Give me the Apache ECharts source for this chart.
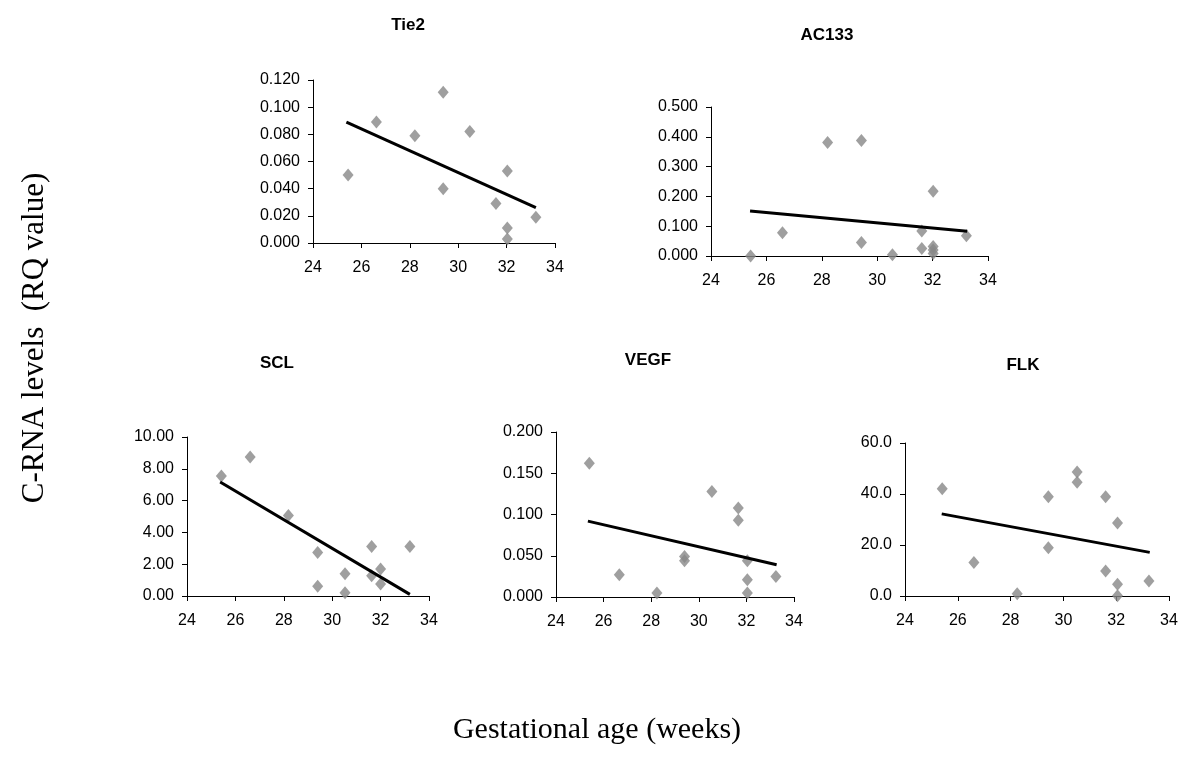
<!DOCTYPE html>
<html>
<head>
<meta charset="utf-8">
<script src="https://cdn.jsdelivr.net/npm/echarts@6/dist/echarts.min.js"></script>
<style>html,body{margin:0;padding:0;background:#fff}#c{width:1200px;height:771px}</style>
</head>
<body>
<div id="c"></div>
<script>
// Gestational age (weeks) tick range
const xTicks = [24, 26, 28, 30, 32, 34];

// Tie2
const tie2X = [25.45, 26.62, 28.21, 29.38, 29.38, 30.48, 31.56, 32.03, 32.03, 32.03, 33.21];
const tie2Y = [0.050, 0.089, 0.079, 0.111, 0.040, 0.082, 0.029, 0.053, 0.011, 0.003, 0.019];
const tie2TrendX = [25.38, 33.21];
const tie2TrendY = [0.089, 0.026];

// AC133
const ac133X = [25.43, 26.58, 28.21, 29.43, 29.43, 30.55, 31.61, 31.61, 32.02, 32.02, 32.02, 32.02, 33.22];
const ac133Y = [0.000, 0.078, 0.381, 0.388, 0.045, 0.004, 0.084, 0.025, 0.217, 0.032, 0.020, 0.008, 0.068];
const ac133TrendX = [25.41, 33.25];
const ac133TrendY = [0.151, 0.083];

// SCL
const sclX = [25.42, 26.61, 28.19, 29.40, 29.40, 30.53, 30.53, 31.63, 31.63, 32.00, 32.00, 33.21];
const sclY = [7.55, 8.74, 5.07, 2.73, 0.61, 1.40, 0.21, 3.12, 1.28, 1.70, 0.75, 3.12];
const sclTrendX = [25.37, 33.21];
const sclTrendY = [7.17, 0.10];

// VEGF
const vegfX = [25.40, 26.66, 28.24, 29.40, 29.40, 30.55, 31.66, 31.66, 32.04, 32.04, 32.04, 33.24];
const vegfY = [0.162, 0.027, 0.005, 0.049, 0.044, 0.128, 0.108, 0.093, 0.044, 0.021, 0.005, 0.025];
const vegfTrendX = [25.34, 33.27];
const vegfTrendY = [0.092, 0.039];

// FLK
const flkX = [25.41, 26.61, 28.25, 29.43, 29.43, 30.52, 30.52, 31.60, 31.60, 32.05, 32.05, 32.05, 33.24];
const flkY = [42.1, 13.1, 0.9, 38.9, 18.9, 48.6, 44.6, 38.9, 9.8, 28.6, 4.6, 0.1, 5.9];
const flkTrendX = [25.39, 33.27];
const flkTrendY = [32.2, 17.1];

const panels = [
  {name: 'Tie2', x: tie2X, y: tie2Y, tx: tie2TrendX, ty: tie2TrendY, max: 0.12, interval: 0.02, dec: 3,
   grid: {left: 313, top: 80, width: 242, height: 163}, title: [408, 25]},
  {name: 'AC133', x: ac133X, y: ac133Y, tx: ac133TrendX, ty: ac133TrendY, max: 0.5, interval: 0.1, dec: 3,
   grid: {left: 711, top: 107, width: 277, height: 149}, title: [827, 35]},
  {name: 'SCL', x: sclX, y: sclY, tx: sclTrendX, ty: sclTrendY, max: 10, interval: 2, dec: 2,
   grid: {left: 187, top: 437, width: 242, height: 159}, title: [277, 363]},
  {name: 'VEGF', x: vegfX, y: vegfY, tx: vegfTrendX, ty: vegfTrendY, max: 0.2, interval: 0.05, dec: 3,
   grid: {left: 556, top: 432, width: 238, height: 165}, title: [648, 360]},
  {name: 'FLK', x: flkX, y: flkY, tx: flkTrendX, ty: flkTrendY, max: 60, interval: 20, dec: 1,
   grid: {left: 905, top: 443, width: 264, height: 153}, title: [1023, 365]}
];

const sans = '"Liberation Sans", Arial, sans-serif';
const tickFont = {fontFamily: sans, fontSize: 16, color: '#000'};
const axisLine = {show: true, lineStyle: {color: '#000', width: 1}};
const axisTick = {show: true, inside: false, length: 5, lineStyle: {color: '#000', width: 1}};

const grids = [], xAxes = [], yAxes = [], series = [], graphics = [];
panels.forEach((p, i) => {
  grids.push(Object.assign({containLabel: false}, p.grid));
  xAxes.push({type: 'value', gridIndex: i, min: xTicks[0], max: xTicks[xTicks.length - 1], interval: 2,
    axisLine: Object.assign({onZero: false}, axisLine), axisTick: axisTick, splitLine: {show: false},
    axisLabel: Object.assign({margin: 17}, tickFont)});
  yAxes.push({type: 'value', gridIndex: i, min: 0, max: p.max, interval: p.interval,
    axisLine: axisLine, axisTick: axisTick, splitLine: {show: false},
    axisLabel: Object.assign({margin: 13, formatter: v => v.toFixed(p.dec)}, tickFont)});
  series.push({type: 'scatter', xAxisIndex: i, yAxisIndex: i, symbol: 'diamond', symbolSize: [11, 13],
    itemStyle: {color: '#878787'}, data: p.x.map((v, k) => [v, p.y[k]]), z: 2});
  series.push({type: 'line', xAxisIndex: i, yAxisIndex: i, symbol: 'none',
    lineStyle: {color: '#000', width: 3}, data: p.tx.map((v, k) => [v, p.ty[k]]), z: 3});
  graphics.push({type: 'text', x: p.title[0], y: p.title[1],
    style: {text: p.name, fontFamily: sans, fontWeight: 'bold', fontSize: 17,
      fill: '#000', textAlign: 'center', textVerticalAlign: 'middle'}});
});

graphics.push({type: 'text', x: 35, y: 338, rotation: Math.PI / 2,
  style: {text: 'C-RNA levels  (RQ value)', fontFamily: 'Liberation Serif, Times New Roman, serif', fontSize: 31,
    fill: '#000', textAlign: 'center', textVerticalAlign: 'middle'}});
graphics.push({type: 'text', x: 597, y: 730,
  style: {text: 'Gestational age (weeks)', fontFamily: 'Liberation Serif, Times New Roman, serif', fontSize: 30,
    fill: '#000', textAlign: 'center', textVerticalAlign: 'middle'}});

const chart = echarts.init(document.getElementById('c'), null, {renderer: 'canvas'});
chart.setOption({
  backgroundColor: '#fff',
  animation: false,
  grid: grids,
  xAxis: xAxes,
  yAxis: yAxes,
  series: series,
  graphic: graphics
});
</script>
</body>
</html>
